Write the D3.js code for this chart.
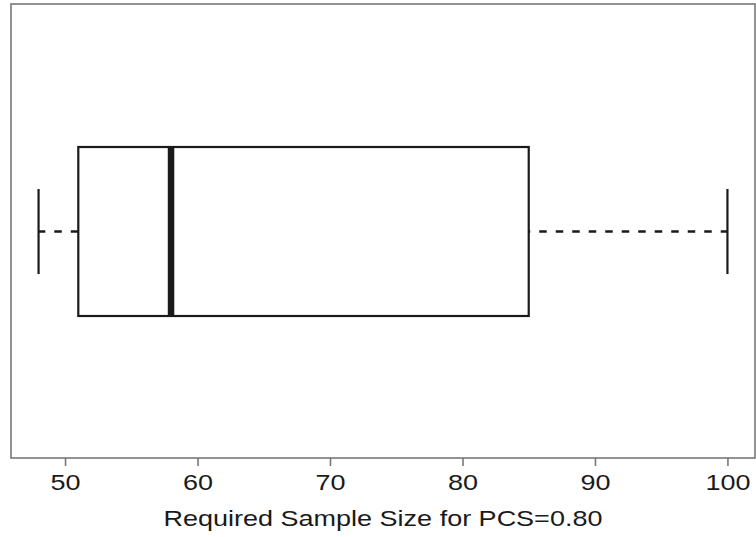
<!DOCTYPE html>
<html><head><meta charset="utf-8">
<script src="https://cdn.jsdelivr.net/npm/d3@7"></script>
<style>html,body{margin:0;padding:0;background:#fff;}</style>
</head><body>
<svg id="c" width="756" height="537"></svg>
<script>
// Data (five-number summary of the boxplot)
const statNames = ["min", "q1", "median", "q3", "max"];
const statValues = [48, 51, 58, 85, 100];
const tickValues = [50, 60, 70, 80, 90, 100];
const tickLabels = ["50", "60", "70", "80", "90", "100"];
const axisTitle = "Required Sample Size for PCS=0.80";

const svg = d3.select("#c");
const W = 756, H = 537;
const plot = {left: 11, right: 755, top: 4, bottom: 458};

const lo = d3.min(statValues), hi = d3.max(statValues);
const pad = (hi - lo) * 0.04;
const x = d3.scaleLinear().domain([lo - pad, hi + pad]).range([plot.left, plot.right]);
const y = d3.scaleLinear().domain([0.5, 1.5]).range([plot.bottom, plot.top]);

const [mn, q1, med, q3, mx] = statValues;
const cy = y(1) + 0.5;
const boxHalf = 84.5, capHalf = 42.5;

const stroke = "#1a1a1a";
// whiskers
svg.append("line").attr("x1", x(q1)).attr("x2", x(mn)).attr("y1", cy).attr("y2", cy)
  .attr("stroke", stroke).attr("stroke-width", 2.4).attr("stroke-dasharray", "7.5,9");
svg.append("line").attr("x1", x(q3)).attr("x2", x(mx)).attr("y1", cy).attr("y2", cy)
  .attr("stroke", stroke).attr("stroke-width", 2.4).attr("stroke-dasharray", "7.5,9").attr("stroke-dashoffset", 6);
// caps
[mn, mx].forEach(v => {
  svg.append("line").attr("x1", x(v)).attr("x2", x(v)).attr("y1", cy - capHalf).attr("y2", cy + capHalf)
    .attr("stroke", stroke).attr("stroke-width", 2.2);
});
// box
svg.append("rect").attr("x", x(q1)).attr("y", cy - boxHalf).attr("width", x(q3) - x(q1)).attr("height", 2 * boxHalf)
  .attr("fill", "none").attr("stroke", stroke).attr("stroke-width", 2.2);
// median
svg.append("line").attr("x1", x(med)).attr("x2", x(med)).attr("y1", cy - boxHalf).attr("y2", cy + boxHalf)
  .attr("stroke", stroke).attr("stroke-width", 6.5);

// frame
svg.append("rect").attr("x", plot.left).attr("y", plot.top).attr("width", plot.right - plot.left).attr("height", plot.bottom - plot.top)
  .attr("fill", "none").attr("stroke", "#777").attr("stroke-width", 1.6);

// axis
const axis = d3.axisBottom(x).tickValues(tickValues).tickFormat((d, i) => tickLabels[i]).tickSize(8).tickSizeOuter(0);
const g = svg.append("g").attr("transform", `translate(0,${plot.bottom})`).call(axis);
g.select(".domain").remove();
g.selectAll(".tick line").attr("stroke", "#777").attr("stroke-width", 1.6);
g.selectAll(".tick text").each(function() {
  const t = d3.select(this);
  t.attr("y", null).attr("dy", null)
   .attr("transform", "translate(0,32) scale(1.2,1)")
   .attr("font-family", "Liberation Sans, Arial, sans-serif").attr("font-size", 22.5).attr("fill", "#1a1a1a")
   .attr("text-anchor", "middle");
});

svg.append("text").attr("transform", `translate(${(plot.left + plot.right) / 2},526) scale(1.2,1)`)
  .attr("text-anchor", "middle").attr("font-family", "Liberation Sans, Arial, sans-serif").attr("font-size", 22.5)
  .attr("fill", "#1a1a1a").text(axisTitle);
</script>
</body></html>
